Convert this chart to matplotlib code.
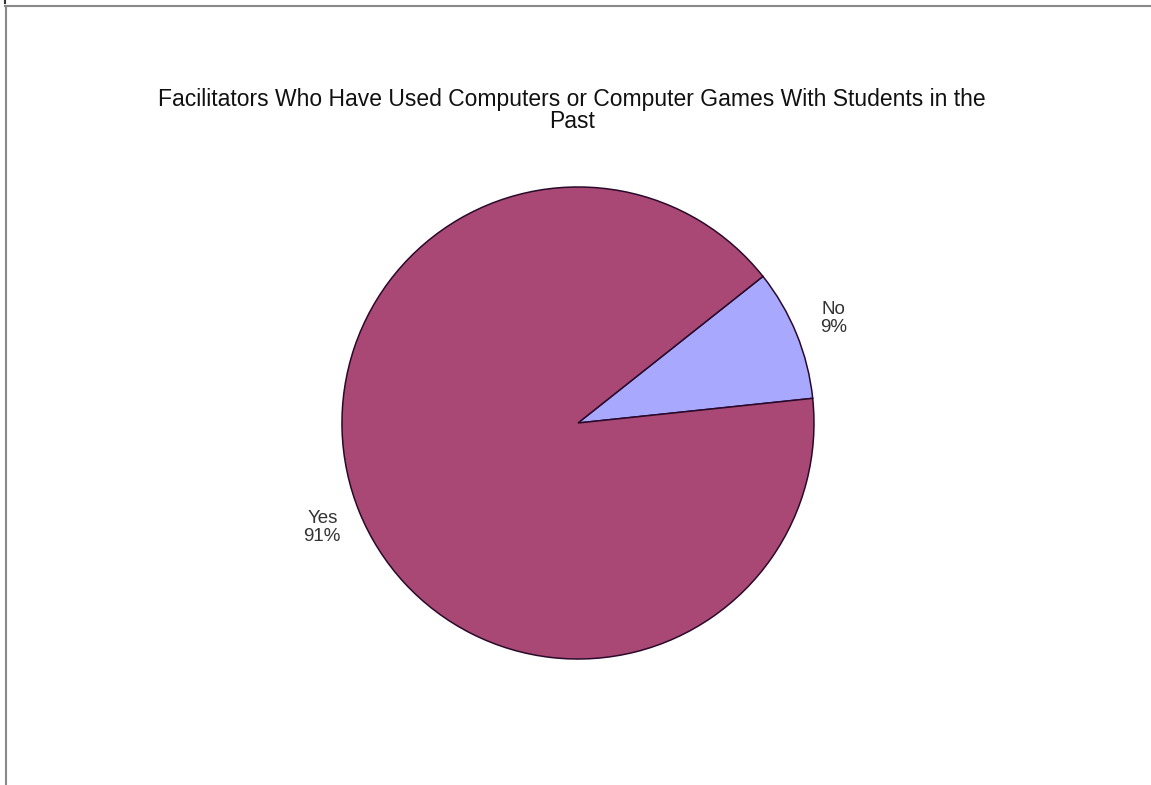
import matplotlib
matplotlib.use('Agg')
from matplotlib import pyplot as plt
from matplotlib.lines import Line2D

plt.rcParams['font.family'] = ['Liberation Sans', 'DejaVu Sans']

title = 'Facilitators Who Have Used Computers or Computer Games With Students in the\nPast'
categories = ['No', 'Yes']
percents = [9, 91]
colors = ['#a8a8ff', '#a94874']

fig = plt.figure(figsize=(11.51, 7.85), dpi=100)

# frame lines of the original screenshot
fig.add_artist(Line2D([0.004, 1.0], [0.992, 0.992], color='#8a8a8a', lw=1.5))
fig.add_artist(Line2D([0.005, 0.005], [0.0, 0.992], color='#8a8a8a', lw=1.5))
fig.add_artist(Line2D([0.004, 0.004], [0.996, 1.0], color='#333333', lw=1.5))

ax = fig.add_axes([0.2971, 0.1605, 0.4101, 0.6013])
labels = ['%s\n%d%%' % (c, p) for c, p in zip(categories, percents)]
wedges, texts = ax.pie(percents, labels=labels, colors=colors, startangle=6,
                       counterclock=True, radius=1.0, labeldistance=1.17,
                       wedgeprops=dict(edgecolor='#2a0a2a', linewidth=1.1),
                       textprops=dict(fontsize=13.5, color='#333333'))
for t in texts:
    t.set_ha('center')
    t.set_va('center')
    t.set_multialignment('center')
    t.set_linespacing(1.05)
ax.set_xlim(-1, 1)
ax.set_ylim(-1, 1)
ax.set_aspect('equal')

fig.text(0.497, 0.859, title, ha='center', va='center', fontsize=16.5,
         color='#111111', linespacing=0.95)

fig.savefig('out.png', dpi=100)
